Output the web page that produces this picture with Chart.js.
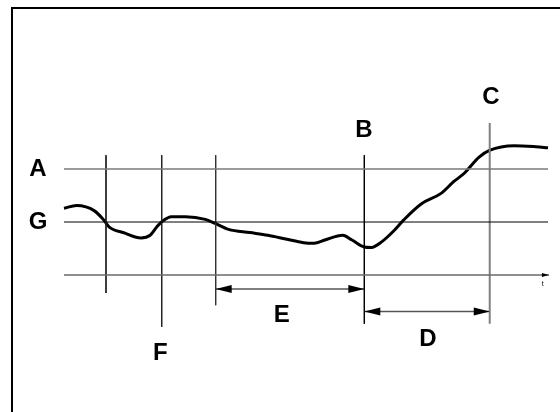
<!DOCTYPE html>
<html>
<head>
<meta charset="utf-8">
<script src="https://cdn.jsdelivr.net/npm/chart.js@4/dist/chart.umd.min.js"></script>
<style>
    html, body { margin: 0; padding: 0; background: #fff; overflow: hidden; }
    #wrap { position: relative; width: 560px; height: 412px; overflow: hidden; }
    #frame {
        position: absolute; left: 11px; top: 7px; width: 620px; height: 520px;
        border-left: 2.5px solid #000; border-top: 2.5px solid #000;
    }
    #chart { position: absolute; left: 0; top: 0; }
</style>
</head>
<body>
<div id="wrap">
    <div id="frame"></div>
    <canvas id="chart" width="560" height="412"></canvas>
</div>
<script>
// signal curve (t, level)
const curveT = [0, 2.6, 6.3, 8.2, 9.3, 12.6, 15.9, 17.8, 19.2, 20.4, 22.2, 25.1, 29.2, 31.1, 34.0, 38.4,
                42.1, 45.8, 49.5, 51.7, 53.9, 57.6, 59.5, 62.0, 63.5, 65.7, 68.0, 70.2, 73.8, 77.9,
                80.5, 82.7, 85.7, 87.9, 93.0, 97.5, 100];
const curveLevel = [1.26, 1.31, 1.21, 1.04, 0.91, 0.79, 0.70, 0.75, 0.91, 1.02, 1.10, 1.10, 1.05, 0.98, 0.86, 0.80,
                    0.75, 0.68, 0.61, 0.60, 0.66, 0.75, 0.66, 0.53, 0.52, 0.63, 0.82, 1.04, 1.34, 1.54,
                    1.76, 1.92, 2.22, 2.35, 2.44, 2.42, 2.40];

// horizontal reference lines: A, G, time axis
const levelA = 2;
const levelG = 1;
const levelAxis = 0;
const axisStart = 0;
const axisEnd = 100.2;

// vertical markers
const markerT =      [8.68, 20.19, 31.34, 62.05, 87.96];
const markerTop =    [2.26, 2.26, 2.26, 2.26, 2.87];
const markerBottom = [-0.34, -0.98, -0.57, -0.92, -0.92];

// interval arrows E and D
const arrowFrom = [31.34, 62.05];
const arrowTo =   [62.05, 87.96];
const arrowLevel = [-0.264, -0.69];

// text labels
const labelText =  ['A', 'G', 'B', 'C', 'E', 'D', 'F', 't'];
const labelT =     [-5.37, -5.37, 61.98, 88.2, 45.0, 75.2, 19.9, 98.9];
const labelLevel = [2.0, 0.99, 2.72, 3.36, -0.755, -1.21, -1.48, -0.175];

const xMin = -13.22, xMax = 102.48;
const yMin = -2.585, yMax = 5.189;

function seg(x1, y1, x2, y2) {
    return [{ x: x1, y: y1 }, { x: x2, y: y2 }];
}

const datasets = [];

datasets.push({ data: seg(axisStart, levelA, 100, levelA), borderColor: '#7a7a7a', borderWidth: 1.6 });
datasets.push({ data: seg(axisStart, levelG, 100, levelG), borderColor: '#000', borderWidth: 1 });
datasets.push({ data: seg(axisStart, levelAxis, axisEnd, levelAxis), borderColor: '#6a6a6a', borderWidth: 1.6, isAxis: true });

const markerColor = ['#222', '#222', '#333', '#000', '#808080'];
const markerWidth = [1, 1, 1, 1, 2];
markerT.forEach((t, i) => {
    datasets.push({ data: seg(t, markerTop[i], t, markerBottom[i]), borderColor: markerColor[i], borderWidth: markerWidth[i] });
});

arrowFrom.forEach((t, i) => {
    datasets.push({ data: seg(t, arrowLevel[i], arrowTo[i], arrowLevel[i]), borderColor: '#555', borderWidth: 1.4, isArrow: true });
});

datasets.push({
    data: curveT.map((t, i) => ({ x: t, y: curveLevel[i] })),
    borderColor: '#000',
    borderWidth: 3,
    cubicInterpolationMode: 'monotone'
});

datasets.forEach(d => {
    d.pointRadius = 0;
    d.fill = false;
    d.clip = false;
    d.borderCapStyle = 'butt';
});

function head(ctx, x, y, dir, len, half) {
    ctx.beginPath();
    ctx.moveTo(x, y);
    ctx.lineTo(x - dir * len, y - half);
    ctx.lineTo(x - dir * len, y + half);
    ctx.closePath();
    ctx.fill();
}

const decorations = {
    id: 'decorations',
    afterDatasetsDraw(chart) {
        const ctx = chart.ctx;
        const xs = chart.scales.x, ys = chart.scales.y;
        ctx.save();
        ctx.fillStyle = '#000';
        chart.data.datasets.forEach(d => {
            if (d.isArrow) {
                const a = d.data[0], b = d.data[1];
                const x1 = xs.getPixelForValue(a.x), x2 = xs.getPixelForValue(b.x);
                const y = ys.getPixelForValue(a.y);
                head(ctx, x1, y, -1, 16, 4);
                head(ctx, x2, y, 1, 16, 4);
            }
            if (d.isAxis) {
                const b = d.data[1];
                head(ctx, xs.getPixelForValue(b.x), ys.getPixelForValue(b.y), 1, 7, 2);
            }
        });
        ctx.textAlign = 'center';
        ctx.textBaseline = 'middle';
        labelText.forEach((s, i) => {
            const small = s === 't';
            ctx.font = small ? '7px "Liberation Sans", Arial, sans-serif'
                             : 'bold 24px "Liberation Sans", Arial, sans-serif';
            ctx.fillText(s, xs.getPixelForValue(labelT[i]), ys.getPixelForValue(labelLevel[i]));
        });
        ctx.restore();
    }
};

new Chart(document.getElementById('chart').getContext('2d'), {
    type: 'line',
    data: { datasets: datasets },
    options: {
        responsive: false,
        animation: false,
        layout: { padding: 0 },
        parsing: false,
        scales: {
            x: { type: 'linear', min: xMin, max: xMax, display: false },
            y: { type: 'linear', min: yMin, max: yMax, display: false }
        },
        plugins: { legend: { display: false }, tooltip: { enabled: false } }
    },
    plugins: [decorations]
});
</script>
</body>
</html>
